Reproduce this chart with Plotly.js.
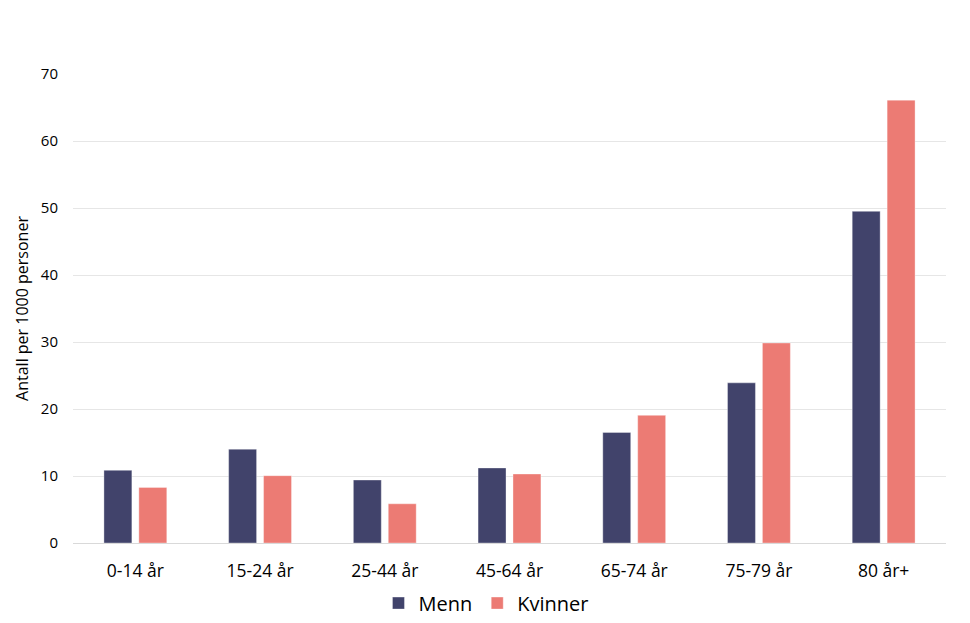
<!DOCTYPE html>
<html>
<head>
<meta charset="utf-8">
<script src="https://cdn.plot.ly/plotly-3.0.1.min.js"></script>
<style>html,body{margin:0;padding:0;background:#fff;}#chart{width:970px;height:623px;}</style>
</head>
<body>
<div id="chart"></div>
<script>
const categories = ["0-14 år", "15-24 år", "25-44 år", "45-64 år", "65-74 år", "75-79 år", "80 år+"];
const menn = [10.85, 14.0, 9.4, 11.2, 16.5, 23.9, 49.5];
const kvinner = [8.3, 10.05, 5.85, 10.3, 19.05, 29.85, 66.1];
const yTicks = [0, 10, 20, 30, 40, 50, 60, 70];

const font = "Open Sans, Noto Sans, Liberation Sans, sans-serif";
const traces = [
  {type: "bar", name: "Menn", x: categories, y: menn,
   marker: {color: "#41436b", line: {color: "rgba(255,255,255,0.35)", width: 1}}},
  {type: "bar", name: "Kvinner", x: categories, y: kvinner,
   marker: {color: "#ec7b74", line: {color: "rgba(255,255,255,0.35)", width: 1}}}
];
const layout = {
  width: 970, height: 623,
  margin: {l: 73, r: 24, t: 74, b: 80, autoexpand: false},
  paper_bgcolor: "#fff", plot_bgcolor: "#fff",
  barmode: "group", bargap: 0.44, bargroupgap: 0.2,
  font: {family: font, color: "#000", size: 15},
  xaxis: {
    type: "category", showgrid: false, zeroline: false, automargin: false,
    showline: true, linecolor: "#d9d9d9", linewidth: 1,
    ticks: "", tickfont: {size: 17.5, family: font}, ticklabelstandoff: 12
  },
  yaxis: {
    range: [0, 70], tickvals: yTicks, ticktext: yTicks.map(String), automargin: false,
    showgrid: true, gridcolor: "#e6e6e6", gridwidth: 1,
    zeroline: false, showline: false, ticks: "",
    tickfont: {size: 15, family: font}, ticklabelstandoff: 14,
    title: {text: "Antall per 1000 personer", font: {size: 16, family: font}, standoff: 8}
  },
  showlegend: true,
  legend: {orientation: "h", xref: "container", yref: "container",
           x: 0.501, xanchor: "center", y: 0.032, yanchor: "middle",
           font: {size: 20, family: font}, itemwidth: 30, traceorder: "normal"}
};
Plotly.newPlot("chart", traces, layout, {displayModeBar: false, staticPlot: true});
</script>
</body>
</html>
